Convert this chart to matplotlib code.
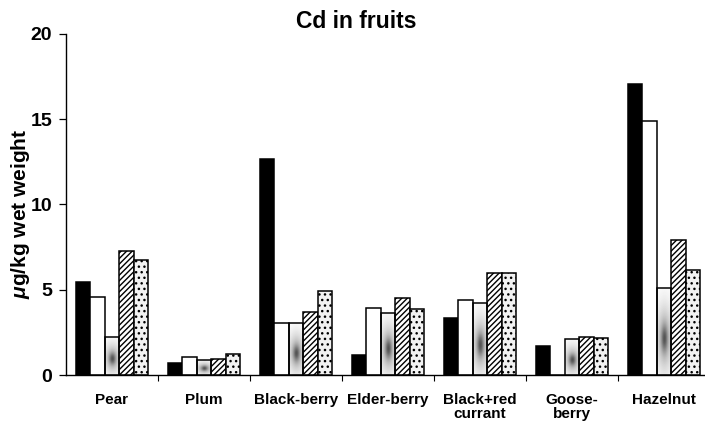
import numpy as np
import matplotlib
matplotlib.use("Agg")
import matplotlib.pyplot as plt

plt.rcParams["font.family"] = ["Liberation Sans", "DejaVu Sans"]
plt.rcParams["mathtext.fontset"] = "custom"
plt.rcParams["mathtext.it"] = "Liberation Sans:italic:bold"
plt.rcParams["mathtext.rm"] = "Liberation Sans:bold"
plt.rcParams["hatch.linewidth"] = 1.0

# values (ug/kg wet weight)
fruits = ["Pear", "Plum", "Black-berry", "Elder-berry", "Black+red\ncurrant", "Goose-\nberry", "Hazelnut"]
black_vals = [5.45, 0.72, 12.67, 1.2, 3.35, 1.7, 17.08]
white_vals = [4.6, 1.05, 3.07, 3.95, 4.4, 0.0, 14.87]
shade_vals = [2.25, 0.9, 3.03, 3.65, 4.2, 2.1, 5.1]
hatch_vals = [7.25, 0.95, 3.68, 4.5, 5.98, 2.2, 7.93]
dot_vals   = [6.75, 1.25, 4.91, 3.86, 5.98, 2.15, 6.14]

W, H = 705, 423
fig = plt.figure(figsize=(W / 100, H / 100), dpi=100)
ax = fig.add_axes([66 / W, (H - 375) / H, (W - 66) / W, (375 - 34) / H])

x = np.arange(len(fruits))
bw = 0.157
EW = 1.1

bars_black = ax.bar(x - 2 * bw, black_vals, bw, color="black", edgecolor="black", linewidth=EW)
bars_white = ax.bar(x - bw, white_vals, bw, color="white", edgecolor="black", linewidth=EW)
bars_shade = ax.bar(x, shade_vals, bw, color="none", edgecolor="black", linewidth=EW, zorder=1.6)
bars_hatch = ax.bar(x + bw, hatch_vals, bw, color="white", edgecolor="black", linewidth=EW, hatch="//////")
bars_dot = ax.bar(x + 2 * bw, dot_vals, bw, color="#f2f2f2", edgecolor="black", linewidth=EW, hatch="...")

# smudgy grey cloud inside the "gradient" bars
gy, gx = np.mgrid[0:1:120j, 0:1:40j]
for b in bars_shade:
    h = b.get_height()
    if h <= 0:
        continue
    x0 = b.get_x()
    bg = ax.bar(x0 + bw / 2, h, bw, color="white", linewidth=0, zorder=0.9)
    r2 = ((gx - 0.5) / 0.55) ** 2 + ((gy - 0.42) / 0.38) ** 2
    alpha = 0.4 * np.exp(-r2) + 0.45 * np.exp(-r2 / 0.15)
    img = np.zeros((120, 40, 4))
    img[..., :3] = 0.2
    img[..., 3] = np.clip(alpha, 0, 1)
    im = ax.imshow(img, extent=(x0, x0 + bw, 0, h),
                   origin="lower", aspect="auto", zorder=1.5, interpolation="bilinear")
    im.set_clip_path(bg[0])

ax.set_xlim(-0.5, -0.5 + (W - 66) / 92)
ax.set_ylim(0, 20)

ax.spines["top"].set_visible(False)
ax.spines["right"].set_visible(False)
ax.spines["left"].set_linewidth(1.0)
ax.spines["bottom"].set_linewidth(1.0)

ax.set_yticks([0, 5, 10, 15, 20])
ax.tick_params(axis="y", direction="out", length=5, width=0.9, labelsize=14, pad=5)
for t in ax.get_yticklabels():
    t.set_fontweight("bold")

ax.set_xticks(x)
ax.set_xticklabels(fruits, fontsize=11, fontweight="bold", linespacing=1.0)
ax.tick_params(axis="x", length=0, pad=13)
ax.set_xticks(x[:-1] + 0.5, minor=True)
ax.tick_params(axis="x", which="minor", direction="out", length=4, width=0.8)

ax.set_ylabel(r"$\mu$g/kg wet weight", fontsize=15, fontweight="bold")
ax.yaxis.set_label_coords(-34 / (W - 66), 0.472)

fig.text(356 / W, 1 - 22 / H, "Cd in fruits", ha="center", va="center",
         fontsize=16.5, fontweight="bold")

fig.savefig("out.png", dpi=100)
